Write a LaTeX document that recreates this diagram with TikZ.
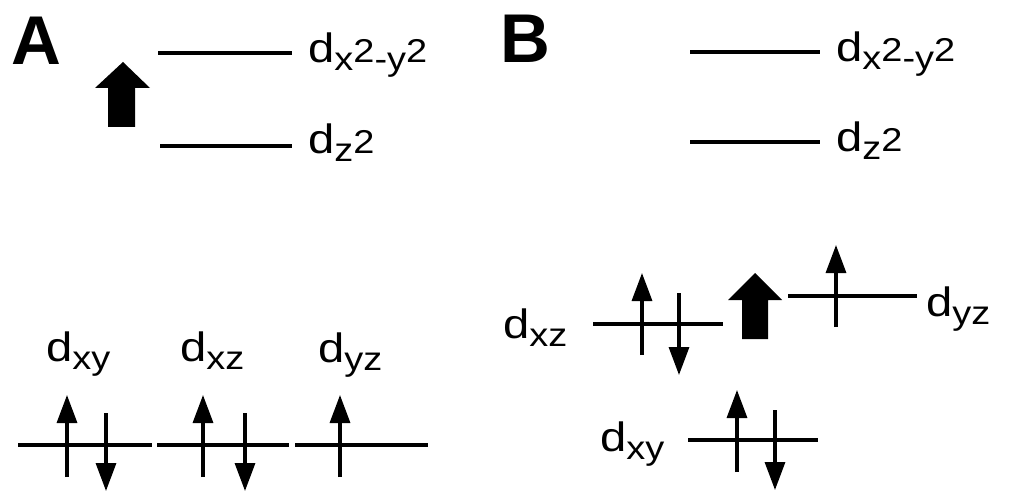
\documentclass[tikz,border=0pt]{standalone}
\usepackage{fontspec}
\setmainfont{Liberation Sans}[FakeStretch=1.15]
\newfontfamily\panelfont{Liberation Sans}
\usetikzlibrary{arrows.meta}
\newcommand\sbx[1]{\raisebox{-8pt}{\fontsize{33}{35}\selectfont #1}}
\newcommand\spx[1]{{\fontsize{33}{35}\selectfont #1}}
\begin{document}
\begin{tikzpicture}[x=1pt,y=-1pt,
  level/.style={line width=3.4pt},
  spin/.style={line width=3.2pt,-{Triangle[width=20pt,length=28pt]}},
  bigarrow/.style={fill=black,draw=none},
  lab/.style={anchor=base west,inner sep=0pt,font=\fontsize{41}{45}\selectfont},
  panel/.style={anchor=base west,inner sep=0pt,font=\panelfont\bfseries\fontsize{69}{72}\selectfont}]
\useasboundingbox (0,0) rectangle (1013,492);
% ---------- Panel A ----------
\node[panel] (pA) at (11,65) {A};
\coordinate (a1l) at (158,53);  \coordinate (a1r) at (292,53);
\coordinate (a2l) at (160,146); \coordinate (a2r) at (292,146);
\draw[level] (a1l) -- (a1r);
\draw[level] (a2l) -- (a2r);
\node[lab] (a1t) at (308,63) {d\sbx{x}\spx{2}\sbx{-y}\spx{2}};
\node[lab] (a2t) at (308,154) {d\sbx{z}\spx{2}};
\fill[bigarrow] (123,62) -- (150,88) -- (135,88) -- (135,127) -- (108,127) -- (108,88) -- (95,88) -- cycle;
% bottom levels
\coordinate (b1l) at (18,445);  \coordinate (b1r) at (152,445);
\coordinate (b2l) at (157,445); \coordinate (b2r) at (289,445);
\coordinate (b3l) at (295,445); \coordinate (b3r) at (428,445);
\draw[level] (b1l) -- (b1r);
\draw[level] (b2l) -- (b2r);
\draw[level] (b3l) -- (b3r);
\coordinate (u1s) at (67,477);  \coordinate (u1e) at (67,395);
\coordinate (d1s) at (106,413); \coordinate (d1e) at (106,491);
\coordinate (u2s) at (203,477); \coordinate (u2e) at (203,395);
\coordinate (d2s) at (245,413); \coordinate (d2e) at (245,491);
\coordinate (u3s) at (340,477); \coordinate (u3e) at (340,395);
\draw[spin] (u1s) -- (u1e);
\draw[spin] (d1s) -- (d1e);
\draw[spin] (u2s) -- (u2e);
\draw[spin] (d2s) -- (d2e);
\draw[spin] (u3s) -- (u3e);
\node[lab] (b1t) at (46,361) {d\sbx{xy}};
\node[lab] (b2t) at (180,361) {d\sbx{xz}};
\node[lab] (b3t) at (318,362) {d\sbx{yz}};
% ---------- Panel B ----------
\node[panel] (pB) at (500,63) {B};
\coordinate (c1l) at (690,52);  \coordinate (c1r) at (820,52);
\coordinate (c2l) at (690,142); \coordinate (c2r) at (820,142);
\draw[level] (c1l) -- (c1r);
\draw[level] (c2l) -- (c2r);
\node[lab] (c1t) at (836,62) {d\sbx{x}\spx{2}\sbx{-y}\spx{2}};
\node[lab] (c2t) at (836,152) {d\sbx{z}\spx{2}};
% dxz
\coordinate (e1l) at (593,324); \coordinate (e1r) at (723,324);
\draw[level] (e1l) -- (e1r);
\coordinate (eu1s) at (642,355); \coordinate (eu1e) at (642,273);
\coordinate (ed1s) at (679,293); \coordinate (ed1e) at (679,375);
\draw[spin] (eu1s) -- (eu1e);
\draw[spin] (ed1s) -- (ed1e);
\node[lab] (e1t) at (503,338) {d\sbx{xz}};
% big arrow B
\fill[bigarrow] (755,273) -- (782,300) -- (768,300) -- (768,339) -- (742,339) -- (742,300) -- (728,300) -- cycle;
% dyz
\coordinate (e2l) at (788,296); \coordinate (e2r) at (917,296);
\draw[level] (e2l) -- (e2r);
\coordinate (eu2s) at (836,327); \coordinate (eu2e) at (836,245);
\draw[spin] (eu2s) -- (eu2e);
\node[lab] (e2t) at (926,316) {d\sbx{yz}};
% dxy
\coordinate (e3l) at (688,440); \coordinate (e3r) at (818,440);
\draw[level] (e3l) -- (e3r);
\coordinate (eu3s) at (737,472); \coordinate (eu3e) at (737,390);
\coordinate (ed3s) at (775,410); \coordinate (ed3e) at (775,490);
\draw[spin] (eu3s) -- (eu3e);
\draw[spin] (ed3s) -- (ed3e);
\node[lab] (e3t) at (600,451) {d\sbx{xy}};
\end{tikzpicture}
\end{document}
